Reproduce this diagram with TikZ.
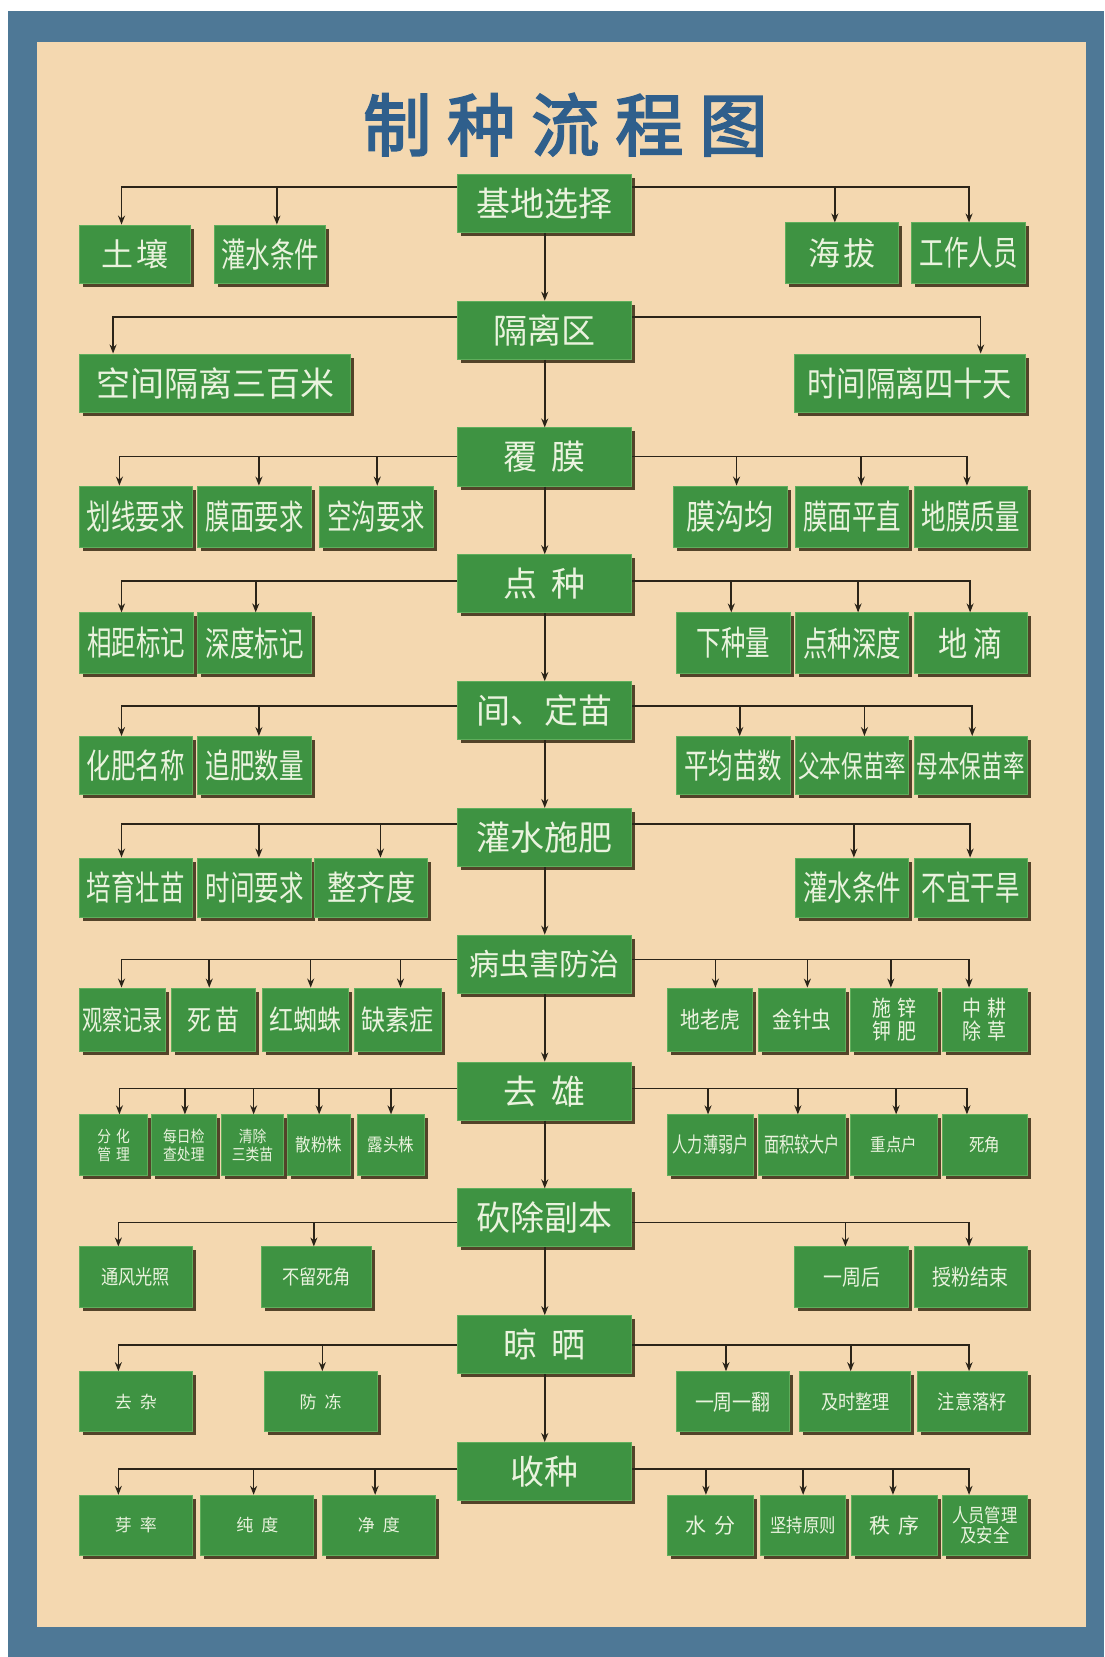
\documentclass[tikz,border=0pt]{standalone}
\usepackage{fontspec}
\usetikzlibrary{shadows,arrows.meta}
\newfontfamily\cjk{Noto Sans CJK SC}
\newfontfamily\cjkc[FakeStretch=0.72]{Noto Sans CJK SC}
\newfontfamily\cjkd[FakeStretch=0.86]{Noto Sans CJK SC}
\newfontfamily\cjkt[FakeBold=3]{Noto Sans CJK SC}
\definecolor{frameblue}{HTML}{4E7896}
\definecolor{paper}{HTML}{F4D8B0}
\definecolor{boxgreen}{HTML}{3E9342}
\definecolor{boxedge}{HTML}{5FAE5C}
\definecolor{shadowc}{HTML}{4B3B22}
\definecolor{txtc}{HTML}{EAF3DE}
\definecolor{linec}{HTML}{2B2418}
\definecolor{titleblue}{HTML}{2F5F8C}
\newcommand\gbox[7]{\node[gb,#1,minimum width={(#5-#3)*1.0565pt},minimum height={(#6-#4)*1.0565pt}] (#2) at ({(#3+#5)/2},{(#4+#6)/2}) {#7};}
\newcommand\br[5]{\draw[conn] (#1.#2 |- 0,#3) -| (#4.north -| #5,0);}
\begin{document}
\begin{tikzpicture}[x=1.0565pt,y=-1.0565pt,
  gb/.style={rectangle,fill=boxgreen,draw=boxedge,line width=1pt,inner sep=0pt,text=txtc,align=center,
    drop shadow={shadow xshift=3.5pt,shadow yshift=-3.5pt,fill=shadowc,opacity=0.95}},
  mb/.style={font=\cjk\fontsize{34}{36}\selectfont},
  mbs/.style={font=\cjk\fontsize{30}{32}\selectfont},
  cM/.style={font=\cjk\fontsize{34}{36}\selectfont},
  cB/.style={font=\cjk\fontsize{32}{34}\selectfont},
  cA/.style={font=\cjkc\fontsize{34}{36}\selectfont},
  cD/.style={font=\cjkd\fontsize{34}{36}\selectfont},
  cE/.style={font=\cjkc\fontsize{30}{32}\selectfont},
  cF/.style={font=\cjkc\fontsize{28}{30}\selectfont},
  cG/.style={font=\cjkd\fontsize{28}{30}\selectfont},
  cH/.style={font=\cjkd\fontsize{23}{25}\selectfont},
  cI/.style={font=\cjkd\fontsize{22}{23}\selectfont},
  cJ/.style={font=\cjkd\fontsize{16}{18}\selectfont},
  cK/.style={font=\cjkd\fontsize{18}{20}\selectfont},
  cL/.style={font=\cjkc\fontsize{21}{23}\selectfont},
  cN/.style={font=\cjkd\fontsize{20}{22}\selectfont},
  cO/.style={font=\cjkd\fontsize{22}{24}\selectfont},
  cP/.style={font=\cjk\fontsize{17}{19}\selectfont},
  cQ/.style={font=\cjk\fontsize{21}{23}\selectfont},
  cR/.style={font=\cjkd\fontsize{19}{20}\selectfont},
  conn/.style={draw=linec,line width=1.6pt,-{Stealth[length=9pt,width=7pt]}}]
\useasboundingbox (0,0) rectangle (1045,1568);
\fill[white] (0,0) rectangle (1045,1568);
\fill[frameblue] (8,10) rectangle (1045,1568);
\fill[paper] (35,40) rectangle (1028,1540);
\node[text=titleblue,font=\cjkt\fontsize{68}{70}\selectfont] (title) at (535,118)
  {制\hspace{16pt}种\hspace{16pt}流\hspace{16pt}程\hspace{16pt}图};
% main boxes
\gbox{mb}{m1}{433}{165}{598}{220}{基地选择}
\gbox{mb}{m2}{433}{285}{598}{340}{隔离区}
\gbox{mb}{m3}{433}{405}{598}{460}{覆\hspace{14pt}膜}
\gbox{mb}{m4}{433}{525}{598}{580}{点\hspace{14pt}种}
\gbox{mb}{m5}{433}{645}{598}{700}{间、定苗}
\gbox{mb}{m6}{433}{765}{598}{820}{灌水施肥}
\gbox{mbs}{m7}{433}{885}{598}{940}{病虫害防治}
\gbox{mb}{m8}{433}{1005}{598}{1060}{去\hspace{14pt}雄}
\gbox{mb}{m9}{433}{1125}{598}{1180}{砍除副本}
\gbox{mb}{m10}{433}{1245}{598}{1300}{晾\hspace{14pt}晒}
\gbox{mb}{m11}{433}{1365}{598}{1420}{收种}
% row 1
\gbox{cB}{c11}{75}{213}{180}{268}{土\hspace{3pt}壤}
\gbox{cA}{c12}{203}{213}{308}{268}{灌水条件}
\gbox{cB}{c13}{743}{211}{850}{268}{海\hspace{3pt}拔}
\gbox{cA}{c14}{863}{211}{970}{268}{工作人员}
% row 2
\gbox{cM}{c21}{75}{335}{332}{390}{空间隔离三百米}
\gbox{cD}{c22}{752}{335}{970}{390}{时间隔离四十天}
% row 3
\gbox{cA}{c31}{75}{460}{182}{518}{划线要求}
\gbox{cA}{c32}{187}{460}{295}{518}{膜面要求}
\gbox{cA}{c33}{302}{460}{410}{518}{空沟要求}
\gbox{cD}{c34}{637}{460}{745}{518}{膜沟均}
\gbox{cA}{c35}{753}{460}{860}{518}{膜面平直}
\gbox{cA}{c36}{865}{460}{972}{518}{地膜质量}
% row 4
\gbox{cA}{c41}{75}{580}{183}{637}{相距标记}
\gbox{cA}{c42}{187}{580}{295}{637}{深度标记}
\gbox{cA}{c43}{640}{580}{748}{637}{下种量}
\gbox{cA}{c44}{753}{580}{860}{637}{点种深度}
\gbox{cD}{c45}{865}{580}{972}{637}{地\hspace{6pt}滴}
% row 5
\gbox{cA}{c51}{75}{697}{182}{752}{化肥名称}
\gbox{cA}{c52}{187}{697}{295}{752}{追肥数量}
\gbox{cA}{c53}{640}{697}{748}{752}{平均苗数}
\gbox{cE}{c54}{753}{697}{860}{752}{父本保苗率}
\gbox{cE}{c55}{865}{697}{972}{752}{母本保苗率}
% row 6
\gbox{cA}{c61}{75}{812}{182}{868}{培育壮苗}
\gbox{cA}{c62}{187}{812}{295}{868}{时间要求}
\gbox{cD}{c63}{298}{812}{405}{868}{整齐度}
\gbox{cA}{c64}{753}{812}{860}{868}{灌水条件}
\gbox{cA}{c65}{865}{812}{972}{868}{不宜干旱}
% row 7
\gbox{cF}{c71}{75}{935}{157}{995}{观察记录}
\gbox{cG}{c72}{162}{935}{242}{995}{死\hspace{4pt}苗}
\gbox{cG}{c73}{248}{935}{330}{995}{红蜘蛛}
\gbox{cG}{c74}{335}{935}{418}{995}{缺素症}
\gbox{cH}{c75}{632}{935}{712}{995}{地老虎}
\gbox{cH}{c76}{718}{935}{800}{995}{金针虫}
\gbox{cI}{c77}{805}{935}{887}{995}{施\hspace{6pt}锌\\钾\hspace{6pt}肥}
\gbox{cI}{c78}{892}{935}{972}{995}{中\hspace{6pt}耕\\除\hspace{6pt}草}
% row 8
\gbox{cJ}{c81}{75}{1055}{140}{1112}{分\hspace{5pt}化\\管\hspace{5pt}理}
\gbox{cJ}{c82}{143}{1055}{205}{1112}{每日检\\查处理}
\gbox{cJ}{c83}{210}{1055}{268}{1112}{清除\\三类苗}
\gbox{cK}{c84}{272}{1055}{332}{1112}{散粉株}
\gbox{cK}{c85}{338}{1055}{402}{1112}{露头株}
\gbox{cL}{c86}{632}{1055}{713}{1112}{人力薄弱户}
\gbox{cL}{c87}{718}{1055}{800}{1112}{面积较大户}
\gbox{cK}{c88}{805}{1055}{887}{1112}{重点户}
\gbox{cK}{c89}{892}{1055}{972}{1112}{死角}
% row 9
\gbox{cN}{c91}{75}{1180}{182}{1237}{通风光照}
\gbox{cN}{c92}{247}{1180}{352}{1237}{不留死角}
\gbox{cO}{c93}{752}{1180}{860}{1237}{一周后}
\gbox{cO}{c94}{865}{1180}{972}{1237}{授粉结束}
% row 10
\gbox{cP}{c101}{75}{1298}{182}{1355}{去\hspace{8pt}杂}
\gbox{cP}{c102}{250}{1298}{357}{1355}{防\hspace{8pt}冻}
\gbox{cO}{c103}{640}{1298}{747}{1355}{一周一翻}
\gbox{cN}{c104}{757}{1298}{862}{1355}{及时整理}
\gbox{cN}{c105}{868}{1298}{972}{1355}{注意落籽}
% row 11
\gbox{cP}{c111}{75}{1415}{182}{1472}{芽\hspace{8pt}率}
\gbox{cP}{c112}{190}{1415}{297}{1472}{纯\hspace{8pt}度}
\gbox{cP}{c113}{305}{1415}{412}{1472}{净\hspace{8pt}度}
\gbox{cQ}{c114}{632}{1415}{713}{1472}{水\hspace{8pt}分}
\gbox{cR}{c115}{720}{1415}{800}{1472}{坚持原则}
\gbox{cQ}{c116}{806}{1415}{887}{1472}{秩\hspace{8pt}序}
\gbox{cR}{c117}{892}{1415}{972}{1472}{人员管理\\及安全}
% spine
\foreach \a/\b in {m1/m2,m2/m3,m3/m4,m4/m5,m5/m6,m6/m7,m7/m8,m8/m9,m9/m10,m10/m11}
  \draw[conn] (\a) -- (\b);
% branches
\br{m1}{west}{177}{c11}{115} \br{m1}{west}{177}{c12}{262}
\br{m1}{east}{177}{c13}{790} \br{m1}{east}{177}{c14}{917}
\br{m2}{west}{300}{c21}{107} \br{m2}{east}{300}{c22}{928}
\br{m3}{west}{432}{c31}{113} \br{m3}{west}{432}{c32}{245} \br{m3}{west}{432}{c33}{357}
\br{m3}{east}{432}{c34}{697} \br{m3}{east}{432}{c35}{815} \br{m3}{east}{432}{c36}{915}
\br{m4}{west}{550}{c41}{115} \br{m4}{west}{550}{c42}{242}
\br{m4}{east}{550}{c43}{692} \br{m4}{east}{550}{c44}{812} \br{m4}{east}{550}{c45}{918}
\br{m5}{west}{668}{c51}{115} \br{m5}{west}{668}{c52}{245}
\br{m5}{east}{668}{c53}{700} \br{m5}{east}{668}{c54}{818} \br{m5}{east}{668}{c55}{920}
\br{m6}{west}{780}{c61}{115} \br{m6}{west}{780}{c62}{245} \br{m6}{west}{780}{c63}{360}
\br{m6}{east}{780}{c64}{808} \br{m6}{east}{780}{c65}{918}
\br{m7}{west}{908}{c71}{115} \br{m7}{west}{908}{c72}{198} \br{m7}{west}{908}{c73}{294} \br{m7}{west}{908}{c74}{379}
\br{m7}{east}{908}{c75}{677} \br{m7}{east}{908}{c76}{764} \br{m7}{east}{908}{c77}{843} \br{m7}{east}{908}{c78}{917}
\br{m8}{west}{1030}{c81}{113} \br{m8}{west}{1030}{c82}{175} \br{m8}{west}{1030}{c83}{240} \br{m8}{west}{1030}{c84}{302} \br{m8}{west}{1030}{c85}{370}
\br{m8}{east}{1030}{c86}{670} \br{m8}{east}{1030}{c87}{755} \br{m8}{east}{1030}{c88}{848} \br{m8}{east}{1030}{c89}{915}
\br{m9}{west}{1157}{c91}{112} \br{m9}{west}{1157}{c92}{297}
\br{m9}{east}{1157}{c93}{800} \br{m9}{east}{1157}{c94}{917}
\br{m10}{west}{1273}{c101}{112} \br{m10}{west}{1273}{c102}{305}
\br{m10}{east}{1273}{c103}{687} \br{m10}{east}{1273}{c104}{805} \br{m10}{east}{1273}{c105}{917}
\br{m11}{west}{1390}{c111}{112} \br{m11}{west}{1390}{c112}{240} \br{m11}{west}{1390}{c113}{355}
\br{m11}{east}{1390}{c114}{668} \br{m11}{east}{1390}{c115}{760} \br{m11}{east}{1390}{c116}{845} \br{m11}{east}{1390}{c117}{917}
\end{tikzpicture}
\end{document}
